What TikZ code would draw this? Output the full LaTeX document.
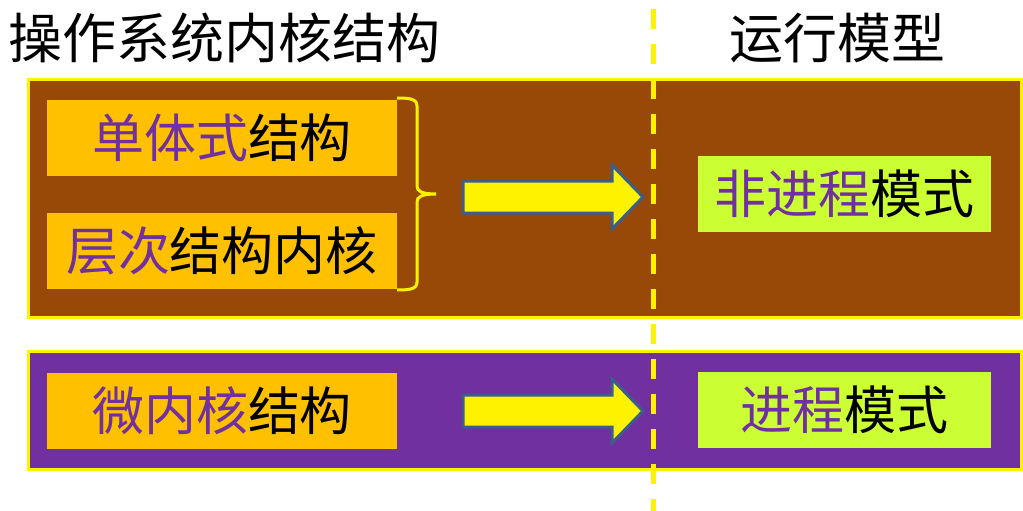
\documentclass[tikz,border=0pt]{standalone}
\usepackage{fontspec}
\newfontfamily\cjk{Noto Sans CJK SC}
\definecolor{brownbg}{HTML}{984807}
\definecolor{purplebg}{HTML}{7030A0}
\definecolor{orangebox}{HTML}{FFC000}
\definecolor{greenbox}{HTML}{CCFF33}
\definecolor{arrowline}{HTML}{3A5F8B}
\definecolor{ptext}{HTML}{7030A0}
\begin{document}
\begin{tikzpicture}[x=1pt,y=-1pt,
  txt/.style={font=\cjk\fontsize{54}{62}\selectfont, inner sep=0pt},
  panel/.style={draw=yellow, line width=3pt, inner sep=0pt},
  obox/.style={fill=orangebox, inner sep=0pt, minimum width=350pt, minimum height=76pt, font=\cjk\fontsize{52}{60}\selectfont},
  gbox/.style={fill=greenbox, inner sep=0pt, minimum width=293pt, minimum height=76pt, font=\cjk\fontsize{52}{60}\selectfont},
  blockarrow/.style={fill=yellow, draw=arrowline, line width=3pt, line join=miter},
  bracestyle/.style={draw=yellow, line width=3pt},
  divider/.style={draw=yellow, line width=5pt, dash pattern=on 20pt off 15pt}]
\useasboundingbox (0,0) rectangle (1023,511);
% titles
\node[txt] (t1) at (225,38) {操作系统内核结构};
\node[txt] (t2) at (837,38) {运行模型};
% panels
\node[panel, fill=brownbg, minimum width=993pt, minimum height=237pt] (ptop) at (524.5,198.5) {};
\node[panel, fill=purplebg, minimum width=993pt, minimum height=118pt] (pbot) at (524.5,410) {};
% left boxes
\node[obox] (mono) at (222,137.5) {\textcolor{ptext}{单体式}结构};
\node[obox] (layer) at (222,251) {\textcolor{ptext}{层次}结构内核};
\node[obox] (micro) at (222,411) {\textcolor{ptext}{微内核}结构};
% right boxes
\node[gbox] (nonproc) at (844.5,194) {\textcolor{ptext}{非进程}模式};
\node[gbox] (proc) at (844.5,410) {\textcolor{ptext}{进程}模式};
% brace
\draw[bracestyle] (397,98) .. controls (410,98) and (417,99) .. (417,106) -- (417,186)
  .. controls (417,191) and (421,194) .. (436,194)
  .. controls (421,194) and (417,197) .. (417,202) -- (417,282)
  .. controls (417,289) and (410,290) .. (397,290);
% block arrows
\draw[blockarrow] (463,181) -- (612,181) -- (612,165) -- (643,197) -- (612,229) -- (612,213) -- (463,213) -- cycle;
\draw[blockarrow] (463,395) -- (612,395) -- (612,379) -- (643,411) -- (612,443) -- (612,427) -- (463,427) -- cycle;
% divider
\coordinate (dtop) at (653,9);
\coordinate (dbot) at (653,511);
\draw[divider] (dtop) -- (dbot);
\end{tikzpicture}
\end{document}
